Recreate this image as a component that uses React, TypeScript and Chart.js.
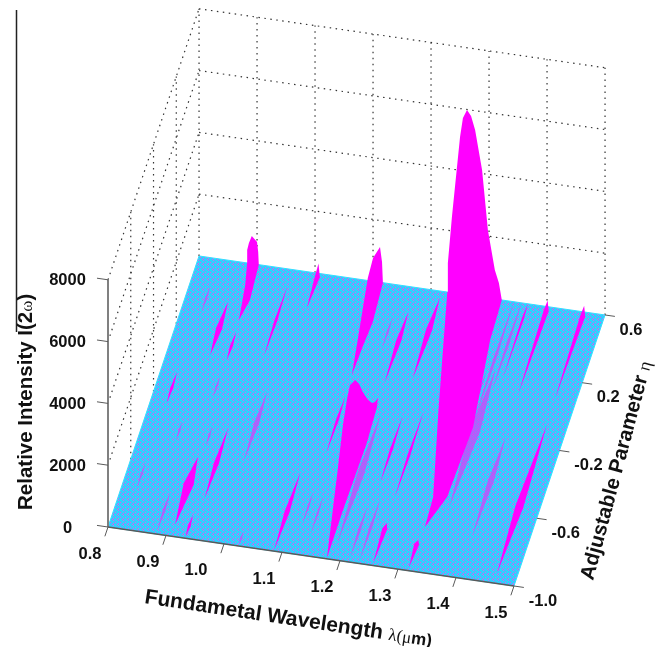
import React, { useEffect, useRef } from "react";
import { Chart, registerables } from "chart.js";

Chart.register(...registerables);

// ---------- tick values ----------
const wavelengthTicks = [0.8, 0.9, 1.0, 1.1, 1.2, 1.3, 1.4, 1.5];
const etaTicks = [-1.0, -0.6, -0.2, 0.2, 0.6];
const intensityTicks = [0, 2000, 4000, 6000, 8000];

// ---------- main peaks: outline of each peak as (lambda, eta, intensity) ----------
const peakALambda = [0.901, 0.892, 0.883, 0.883, 0.886, 0.891, 0.9, 0.902, 0.903, 0.908];
const peakAEta = [0.272, 0.474, 0.6, 0.6, 0.6, 0.6, 0.6, 0.6, 0.6, 0.394];
const peakAIntensity = [0, 0, 30, 420, 657, 897, 725, 407, 0, 0];

const peakBLambda = [1.117, 1.103, 1.091, 1.1, 1.112, 1.1155, 1.117, 1.122, 1.119];
const peakBEta = [0.055, 0.343, 0.6, 0.6, 0.6, 0.6, 0.6, 0.371, 0.215];
const peakBIntensity = [0, 0, 80, 755, 1142, 666, 0, 0, 0];

const peakCLambda = [1.321, 1.318, 1.28, 1.228, 1.229, 1.236, 1.243, 1.25, 1.255, 1.262, 1.269, 1.276, 1.288, 1.298, 1.31, 1.317, 1.322, 1.325, 1.345, 1.341];
const peakCEta = [-0.741, -0.565, -0.088, 0.6, 0.6, 0.6, 0.6, 0.6, 0.6, 0.6, 0.6, 0.6, 0.6, 0.6, 0.6, 0.6, 0.6, 0.365, -0.139, -0.554];
const peakCIntensity = [0, 0, 0, 0, 945, 2453, 3767, 5078, 5706, 5984, 5809, 5372, 4110, 2197, 939, 537, 0, 0, 0, 0];

const peakDLambda = [1.177, 1.145, 1.13, 1.124, 1.129, 1.138, 1.145, 1.151, 1.16, 1.167, 1.172, 1.177, 1.176, 1.179, 1.177];
const peakDEta = [-0.995, -0.474, -0.234, -0.1, -0.1, -0.1, -0.1, -0.1, -0.1, -0.1, -0.1, -0.1, -0.105, -0.315, -0.712];
const peakDIntensity = [0, 0, 0, 120, 557, 744, 631, 392, 158, 78, 126, 269, 0, 0, 0];

// ---------- solid ridges ----------
const ridgeLambda = [0.873, 0.903, 0.962, 0.828, 0.943, 0.909, 0.933, 1.086, 1.118, 1.175, 1.219, 1.223, 1.255, 1.256, 1.317, 1.401, 1.464, 1.367, 1.465, 1.336, 1.006];
const ridgeEtaHigh = [0.364, 0.202, 0.497, -0.071, -0.345, -0.532, -0.863, -0.539, -0.074, 0.455, 0.56, -0.14, -0.101, -0.749, -0.82, 0.6, 0.6, 0.6, -0.067, 0.194, 0.6];
const ridgeEtaLow = [0.052, 0.037, 0.096, -0.254, -0.757, -0.933, -0.993, -0.994, -0.404, 0.043, 0.088, -0.523, -0.595, -0.986, -0.98, 0.09, 0.094, 0.167, -0.94, -0.467, 0.395];
const ridgeWidth = [0.0103, 0.005, 0.005, 0.005, 0.0086, 0.0172, 0.005, 0.0086, 0.005, 0.0086, 0.0103, 0.005, 0.005, 0.0086, 0.0086, 0.0086, 0.0086, 0.004, 0.0138, 0.004, 0.0086];
const ridgeCrest = [0.5, 0.5, 0.5, 0.5, 0.5, 0.6, 0.5, 0.5, 0.6, 0.6, 0.6, 0.5, 0.5, 0.85, 0.85, 0.95, 0.95, 0.8, 0.45, 0.5, 0.9];
const ridgeTip = [0, 0, 0, 0, 0, 0, 0, 0, 0, 0, 0, 0, 0, 0, 0, 200, 200, 0, 0, 0, 320];

// ---------- faint ridges ----------
const faintLambda = [0.835, 0.901, 0.987, 0.864, 0.916, 0.826, 0.883, 1.025, 1.118, 1.137, 1.152, 1.215, 1.232, 1.356, 1.343, 1.404, 1.186, 1.35];
const faintEtaHigh = [0.434, -0.064, -0.11, -0.349, -0.352, -0.61, -0.758, -0.918, -0.641, -0.655, 0.409, -0.675, -0.625, 0.6, 0.6, -0.174, -0.15, 0.2];
const faintEtaLow = [0.287, -0.182, -0.513, -0.454, -0.461, -0.753, -0.976, -0.995, -0.819, -0.869, 0.23, -0.972, -0.98, 0.083, -0.131, -0.747, -0.9, -0.6];
const faintWidth = [0.0034, 0.0034, 0.0086, 0.0034, 0.0034, 0.0034, 0.005, 0.0034, 0.0034, 0.0034, 0.0034, 0.005, 0.005, 0.005, 0.005, 0.0103, 0.012, 0.018];

// ---------- projection of the 3D box on to the page ----------
const ORIGIN = { x: 108, y: 527 };
const LAMBDA_VEC = { x: 580, y: 84.3 };
const ETA_VEC = { x: 56.9, y: -169.4 };
const INTENSITY_VEC = -0.0309;

function project(lambda: number, eta: number, intensity: number) {
  const a = lambda - 0.8;
  const b = eta + 1;
  return {
    x: ORIGIN.x + LAMBDA_VEC.x * a + ETA_VEC.x * b,
    y: ORIGIN.y + LAMBDA_VEC.y * a + ETA_VEC.y * b + INTENSITY_VEC * intensity,
  };
}

const MAGENTA = "#ff00ff";
const FAINT = "rgba(215,60,250,0.7)";
const GREY = "#5a5a5a";
const SANS = '"Liberation Sans", Arial, sans-serif';
const SERIF = '"Liberation Serif", "Times New Roman", serif';

function dither(): CanvasPattern | string {
  const rows = [
    "cbcmb",
    "bcbcb",
    "mbcbc",
    "bcbmb",
    "cbmbc",
  ];
  const colours: Record<string, string> = { c: "#12e8ff", b: "#52b4fb", m: "#c86cf2" };
  const tile = document.createElement("canvas");
  tile.width = rows[0].length;
  tile.height = rows.length;
  const ctx = tile.getContext("2d");
  if (!ctx) return "#50c0f8";
  rows.forEach((row, y) => {
    row.split("").forEach((key, x) => {
      ctx.fillStyle = colours[key];
      ctx.fillRect(x, y, 1, 1);
    });
  });
  return ctx.createPattern(tile, "repeat") || "#50c0f8";
}

function lineSet(points: { x: number; y: number }[], color: string, width: number, dash: number[] = []) {
  return {
    type: "scatter",
    data: points,
    showLine: true,
    borderColor: color,
    borderWidth: width,
    borderDash: dash,
    pointRadius: 0,
    fill: false,
    tension: 0,
    clip: false,
  };
}

function shapeSet(points: { x: number; y: number }[], color: any, edge = "transparent", edgeWidth = 0) {
  return {
    type: "scatter",
    data: [...points, points[0]],
    showLine: true,
    borderColor: edge,
    borderWidth: edgeWidth,
    backgroundColor: color,
    pointRadius: 0,
    fill: "shape",
    tension: 0,
    clip: false,
  };
}

function outline(lambda: number[], eta: number[], intensity: number[]) {
  return lambda.map((l, i) => project(l, eta[i], intensity[i]));
}

function ridge(lambda: number, high: number, low: number, width: number, crest: number, tip: number) {
  const mid = low + (high - low) * crest;
  return [
    project(lambda, high, tip),
    project(lambda + width / 2, mid, 0),
    project(lambda, low, 0),
    project(lambda - width / 2, mid, 0),
  ];
}

function buildDatasets() {
  const sets: any[] = [];
  const dots = [1.5, 4.5];
  const dotted = "#333333";
  // back wall
  wavelengthTicks.forEach((l) => sets.push(lineSet([project(l, 0.6, 0), project(l, 0.6, 8000)], dotted, 1.2, dots)));
  intensityTicks.slice(1).forEach((z) => sets.push(lineSet([project(0.8, 0.6, z), project(1.5, 0.6, z)], dotted, 1.2, dots)));
  // side wall
  etaTicks.slice(1, -1).forEach((e) => sets.push(lineSet([project(0.8, e, 0), project(0.8, e, 8000)], dotted, 1.2, dots)));
  intensityTicks.slice(1).forEach((z) => sets.push(lineSet([project(0.8, -1, z), project(0.8, 0.6, z)], dotted, 1.2, dots)));
  // floor
  sets.push(
    shapeSet([project(0.8, -1, 0), project(1.5, -1, 0), project(1.5, 0.6, 0), project(0.8, 0.6, 0)], dither(), "#35dcff", 1)
  );
  faintLambda.forEach((l, i) =>
    sets.push(shapeSet(ridge(l, faintEtaHigh[i], faintEtaLow[i], faintWidth[i], 0.55, 0), FAINT))
  );
  ridgeLambda.forEach((l, i) =>
    sets.push(shapeSet(ridge(l, ridgeEtaHigh[i], ridgeEtaLow[i], ridgeWidth[i], ridgeCrest[i], ridgeTip[i]), MAGENTA))
  );
  sets.push(shapeSet(outline(peakALambda, peakAEta, peakAIntensity), MAGENTA));
  sets.push(shapeSet(outline(peakBLambda, peakBEta, peakBIntensity), MAGENTA));
  sets.push(shapeSet(outline(peakDLambda, peakDEta, peakDIntensity), MAGENTA));
  sets.push(shapeSet(outline(peakCLambda, peakCEta, peakCIntensity), MAGENTA));
  // axes
  sets.push(lineSet([project(0.8, -1, 0), project(0.8, -1, 8000)], "#808080", 2));
  sets.push(lineSet([project(0.8, -1, 0), project(1.5, -1, 0)], GREY, 1.5));
  wavelengthTicks.forEach((l) => sets.push(lineSet([project(l, -1, 0), project(l, -1.055, 0)], GREY, 1)));
  etaTicks.forEach((e) => sets.push(lineSet([project(1.5, e, 0), project(1.517, e, 0)], GREY, 1)));
  intensityTicks.forEach((z) => sets.push(lineSet([project(0.8, -1, z), project(0.781, -1, z)], GREY, 1)));
  // later entries are painted on top
  sets.forEach((s, i) => (s.order = -i));
  return sets;
}

type Run = [string, string];

function drawRuns(ctx: CanvasRenderingContext2D, x: number, y: number, angle: number, runs: Run[]) {
  ctx.save();
  ctx.translate(x, y);
  ctx.rotate((angle * Math.PI) / 180);
  ctx.textAlign = "left";
  ctx.textBaseline = "alphabetic";
  let cursor = 0;
  runs.forEach(([text, font]) => {
    ctx.font = font;
    ctx.fillText(text, cursor, 0);
    cursor += ctx.measureText(text).width;
  });
  ctx.restore();
}

const labelPlugin = {
  id: "boxLabels",
  afterDraw(chart: any) {
    const ctx: CanvasRenderingContext2D = chart.ctx;
    const sx = chart.scales.x;
    const sy = chart.scales.y;
    const at = (p: { x: number; y: number }, ox: number, oy: number) => ({
      x: sx.getPixelForValue(p.x) + ox,
      y: sy.getPixelForValue(p.y) + oy,
    });
    ctx.save();
    ctx.fillStyle = "#111";
    ctx.font = `bold 16.5px ${SANS}`;
    ctx.textAlign = "center";
    ctx.textBaseline = "middle";
    intensityTicks.forEach((z) => {
      const p = at(project(0.8, -1, z), -40.5, 1);
      ctx.fillText(String(z), p.x, p.y);
    });
    wavelengthTicks.forEach((l) => {
      const shift = l === 1.0 ? -28 : -18;
      const p = at(project(l, -1, 0), shift, 27);
      ctx.fillText(l.toFixed(1), p.x, p.y);
    });
    etaTicks.forEach((e) => {
      const p = at(project(1.5, e, 0), e > 0 ? 26 : 29, 15);
      ctx.fillText(e.toFixed(1), p.x, p.y);
    });
    const bold = `bold 20.5px ${SANS}`;
    drawRuns(ctx, 32, 510, -90, [
      ["Relative Intensity I(2", bold],
      ["ω", `17px ${SERIF}`],
      [")", bold],
    ]);
    drawRuns(ctx, 144, 603, 8.6, [
      ["Fundametal Wavelength ", `bold 21px ${SANS}`],
      ["λ(", `17px ${SERIF}`],
      ["μ", `17px ${SERIF}`],
      ["m)", `bold 17px ${SANS}`],
    ]);
    drawRuns(ctx, 593, 581, -75, [["Adjustable Parameter ", `bold 20.5px ${SANS}`], ["η", `18px ${SERIF}`]]);
    // stray rule at the page's left edge
    ctx.strokeStyle = "#222";
    ctx.lineWidth = 1.5;
    ctx.beginPath();
    ctx.moveTo(16.5, 10);
    ctx.lineTo(16.5, 332);
    ctx.stroke();
    ctx.restore();
  },
};

export default function App() {
  const ref = useRef<HTMLCanvasElement>(null);
  useEffect(() => {
    if (!ref.current) return;
    const chart = new Chart(ref.current, {
      type: "scatter",
      data: { datasets: buildDatasets() },
      options: {
        animation: false,
        responsive: false,
        layout: { padding: 0 },
        plugins: { legend: { display: false }, tooltip: { enabled: false }, title: { display: false } },
        scales: {
          x: { type: "linear", display: false, min: 0, max: 670 },
          y: { type: "linear", display: false, min: 0, max: 647, reverse: true },
        },
      },
      plugins: [labelPlugin],
    } as any);
    return () => chart.destroy();
  }, []);
  return (
    <div style={{ position: "absolute", left: 0, top: 0, width: 670, height: 647, background: "#fff" }}>
      <canvas ref={ref} width={670} height={647} style={{ display: "block" }} />
    </div>
  );
}
